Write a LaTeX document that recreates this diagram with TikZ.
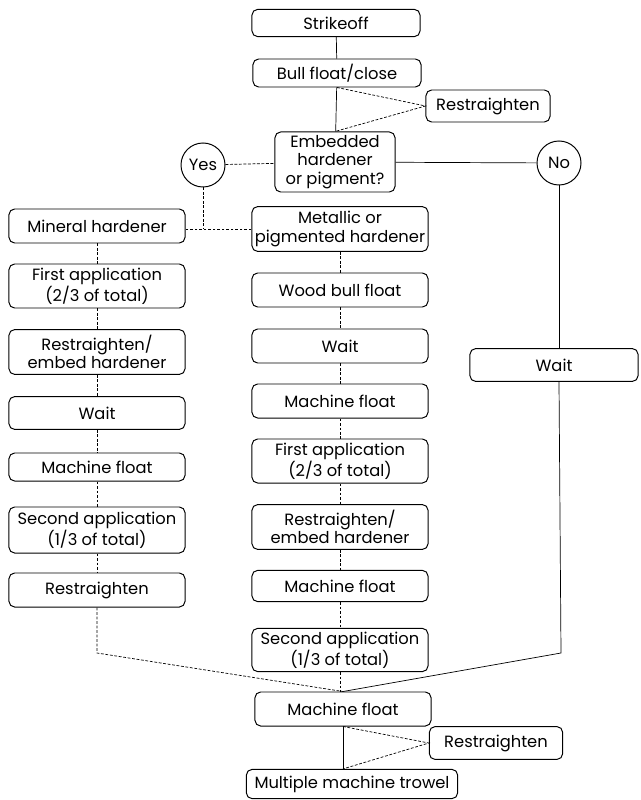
\documentclass[tikz,border=0pt]{standalone}
\usepackage{fontspec}
\setmainfont{Poppins}
\usetikzlibrary{positioning}

\begin{document}
\begin{tikzpicture}[x=0.025cm, y=-0.025cm,
	stepbox/.style={draw, rounded corners=4pt, line width=0.7pt, align=center, inner sep=0.5pt,
		minimum width=4.4cm, minimum height=0.85cm, font=\fontsize{11.6}{13}\selectfont},
	tallbox/.style={stepbox, minimum height=1.12cm},
	answer/.style={draw, circle, line width=0.7pt, minimum size=1.1cm, inner sep=0pt,
		font=\fontsize{11.6}{13}\selectfont},
	link/.style={line width=0.5pt, dash pattern=on 2pt off 1.2pt},
	wire/.style={line width=0.5pt}]
			\useasboundingbox (0,0) rectangle (640,800);
			
			% inizio
			\node[stepbox, minimum width=4.2cm, minimum height=0.68cm] (strike) at (336,23) {Strikeoff};
			\node[stepbox, minimum width=4.2cm, minimum height=0.7cm] (bull) at (337,73) {Bull float/close};
			\node[stepbox, minimum width=3.1cm, minimum height=0.8cm] (restrT) at (488,106) {Restraighten};
			\node[stepbox, minimum width=3cm, minimum height=1.5cm] (embed) at (335,162) {Embedded\\hardener\\or pigment?};
			\node[answer] (yes) at (203,165) {Yes};
			\node[answer] (no) at (559,163) {No};
			
			\draw[wire] (strike) -- (bull);
			\draw[wire] (bull) -- (embed);
			\draw[link] (bull.south) -- (restrT.west) -- (embed.north);
			\draw[link] (yes) -- (embed);
			\draw[wire] (embed) -- (no);
			
			% colonna sinistra
			\node[stepbox] (mineral) at (97,226) {Mineral hardener};
			\node[stepbox, minimum height=1.1cm] (firstL) at (97,286) {First application\\(2/3 of total)};
			\node[tallbox] (embedL) at (97,352) {Restraighten/\\embed hardener};
			\node[stepbox, minimum height=0.82cm] (waitL) at (97,413) {Wait};
			\node[stepbox, minimum height=0.7cm] (floatL) at (97,467) {Machine float};
			\node[stepbox, minimum height=1.15cm] (secondL) at (97,530) {Second application\\(1/3 of total)};
			\node[stepbox] (restrL) at (97,590) {Restraighten};
			
			\draw[link] (mineral) -- (firstL) -- (embedL) -- (waitL) -- (floatL) -- (secondL) -- (restrL);
			
			% colonna centrale
			\node[tallbox] (metallic) at (340,229) {Metallic or\\pigmented hardener};
			\node[stepbox] (wood) at (340,290) {Wood bull float};
			\node[stepbox] (waitM) at (340,346) {Wait};
			\node[stepbox] (floatM) at (340,401) {Machine float};
			\node[stepbox, minimum height=1.1cm] (firstM) at (340,461) {First application\\(2/3 of total)};
			\node[tallbox] (embedM) at (340,527) {Restraighten/\\embed hardener};
			\node[stepbox, minimum height=0.78cm] (floatM2) at (340,586) {Machine float};
			\node[stepbox, minimum height=1.08cm] (secondM) at (340,650) {Second application\\(1/3 of total)};
			
			\draw[link] (yes) -- (yes |- metallic.west);
			\draw[link] (metallic.west) -- (metallic.west -| mineral.east);
			\draw[link] (metallic) -- (wood) -- (waitM) -- (floatM) -- (firstM) -- (embedM) -- (floatM2) -- (secondM);
			
			% colonna destra
			\node[stepbox, minimum width=4.2cm, minimum height=0.82cm] (waitR) at (554,365) {Wait};
			\draw[wire] (no) -- (no |- waitR.north);
			
			% fine
			\node[stepbox, minimum width=4.4cm] (floatB) at (343,709) {Machine float};
			\node[stepbox, minimum width=3.33cm, minimum height=0.82cm] (restrB) at (496,743) {Restraighten};
			\node[stepbox, minimum width=5.28cm, minimum height=0.73cm] (trowel) at (352,784) {Multiple machine trowel};
			\coordinate (cornerL) at (97,653);
			\coordinate (cornerR) at (561,653);
			
			\draw[link] (restrL) -- (cornerL) -- (floatB.north);
			\draw[wire] (no |- waitR.south) -- (cornerR) -- (floatB.north);
			\draw[link] (secondM) -- (secondM |- floatB.north);
			\draw[wire] (floatB.south) -- (floatB.south |- trowel.north);
			\draw[link] (floatB.south) -- (restrB.west) -- (floatB.south |- trowel.north);
		\end{tikzpicture}
\end{document}
